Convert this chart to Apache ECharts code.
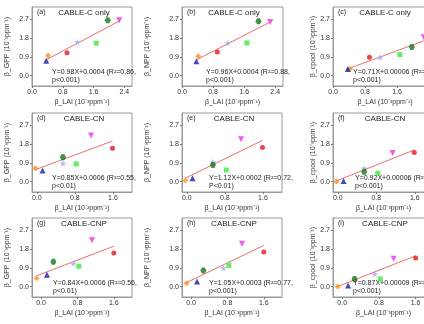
<!DOCTYPE html>
<html>
<head>
<meta charset="utf-8">
<script src="https://cdn.jsdelivr.net/npm/echarts@6/dist/echarts.min.js"></script>
<style>
  html, body { margin: 0; padding: 0; background: #fff; overflow: hidden; }
  #main { width: 440px; height: 324px; }
</style>
</head>
<body>
<div id="main"></div>
<script>
// beta_LAI per model (10^-3 ppm^-1), order: orange, blue, red, lavender, green, dark green, magenta
const laiC   = [0.42, 0.37, 0.91, 1.18, 1.67, 1.97, 2.27];
const laiCN  = [-0.03, 0.12, 1.59, 0.55, 0.83, 0.55, 1.14];
const laiCNP = [-0.10, 0.13, 1.60, 0.71, 0.83, 0.27, 1.12];

const gppC     = [0.97, 0.72, 1.10, 1.61, 1.56, 2.66, 2.66];
const nppC     = [0.93, 0.69, 1.14, 1.57, 1.57, 2.61, 2.58];
const cpoolC   = [0.32, 0.32, 0.88, 0.88, 1.01, 1.37, 1.85];
const gppCN    = [0.64, 0.53, 1.61, 0.88, 0.85, 1.17, 2.22];
const nppCN    = [0.05, 0.16, 1.64, 0.93, 0.56, 0.80, 2.04];
const cpoolCN  = [0.00, 0.03, 1.40, 0.64, 0.40, 0.48, 1.37];
const gppCNP   = [0.40, 0.57, 1.62, 1.12, 0.98, 1.20, 2.23];
const nppCNP   = [0.16, 0.24, 1.66, 0.90, 1.02, 0.77, 2.06];
const cpoolCNP = [0.00, 0.05, 1.37, 0.61, 0.37, 0.37, 1.34];

// fitted lines, intercept in 10^-3 units
const slopes     = [0.98, 0.96, 0.71, 0.85, 1.12, 0.92, 0.84, 1.05, 0.87];
const intercepts = [0.4, 0.4, 0.06, 0.6, 0.2, 0.06, 0.6, 0.3, 0.09];

const eqLabels = [
  "Y=0.98X+0.0004 (R²=0.86,", "Y=0.96X+0.0004 (R²=0.88,", "Y=0.71X+0.00006 (R²=0.",
  "Y=0.85X+0.0006 (R²=0.55,", "Y=1.12X+0.0002 (R²=0.72,", "Y=0.92X+0.00006 (R²=0",
  "Y=0.84X+0.0006 (R²=0.56,", "Y=1.05X+0.0003 (R²=0.77,", "Y=0.87X+0.00009 (R²=0"
];
const pLabels = ["p<0.001)", "p<0.001)", "p<0.001)", "p<0.01)", "P<0.01)", "p<0.001)", "p<0.01)", "p<0.001)", "p<0.001)"];
const panelTags = ["(a)", "(b)", "(c)", "(d)", "(e)", "(f)", "(g)", "(h)", "(i)"];
const models = ["CABLE-C only", "CABLE-CN", "CABLE-CNP"];
const yNames = ["β_GPP", "β_NPP", "β_cpool"];
const xName = "β_LAI (10⁻³ppm⁻¹)";
const xTicksRow = [[0, 0.8, 1.6, 2.4], [0, 0.8, 1.6], [0, 0.8, 1.6]];
const yTicks = [0, 0.9, 1.8, 2.7];

const laiRows = [laiC, laiCN, laiCNP];
const yRows = [gppC, nppC, cpoolC, gppCN, nppCN, cpoolCN, gppCNP, nppCNP, cpoolCNP];

const colors = ["#f7941d", "#1c1ca8", "#e8141e", "#a9a6f2", "#3ee83e", "#17751c", "#ee2ee8"];
const star = "path://M50,0 L61,35 L98,35 L68,57 L79,91 L50,70 L21,91 L32,57 L2,35 L39,35 Z";
const hexagon = "path://M25,0 L75,0 L100,50 L75,100 L25,100 L0,50 Z";
const triDown = "path://M0,0 L100,0 L50,100 Z";
const symbols = ["diamond", "triangle", "circle", star, "rect", hexagon, triDown];
const symSizes = [6, 6, 5, 7, 5, 6, 6];

const font = "Liberation Sans, Arial, sans-serif";
const colLeft = [32, 182, 333];
const panelWidth = [100, 101, 104, 100, 100, 101, 100, 100, 101];
const rowTop = [7, 113, 218];
const rowHeight = 79;
const xRange = [[0, 2.6], [-0.1, 2.0], [-0.2, 2.0]];
const yNameGap = [21, 31, 13];
const eqOffset = [20, 24, 20, 20, 27, 22, 21, 27, 20];

const grids = [], xAxes = [], yAxes = [], series = [], graphics = [];

for (let p = 0; p < 9; p++) {
  const r = Math.floor(p / 3), c = p % 3;
  const left = colLeft[c], top = rowTop[r];
  grids.push({
    left: left, top: top, width: panelWidth[p], height: rowHeight,
    show: true, borderColor: "#9a9a9a", borderWidth: 1, containLabel: false
  });
  xAxes.push({
    gridIndex: p, type: "value", min: xRange[r][0], max: xRange[r][1],
    name: xName, nameLocation: "middle", nameGap: 13,
    nameTextStyle: { fontSize: 7, color: "#333", fontFamily: font },
    axisLine: { show: true, onZero: false, lineStyle: { color: "#9a9a9a" } },
    axisTick: { show: true, length: 2, customValues: xTicksRow[r], lineStyle: { color: "#777" } },
    axisLabel: {
      customValues: xTicksRow[r], margin: 3, fontSize: 7, color: "#333", fontFamily: font,
      formatter: v => v.toFixed(1)
    },
    splitLine: { show: false }
  });
  yAxes.push({
    gridIndex: p, type: "value", min: -0.5, max: 3.3,
    name: yNames[c] + " (10⁻³ppm⁻¹)", nameLocation: "middle", nameGap: yNameGap[c], nameRotate: 90,
    nameTextStyle: { fontSize: 7, color: "#333", fontFamily: font },
    axisLine: { show: true, onZero: false, lineStyle: { color: "#9a9a9a" } },
    axisTick: { show: true, length: 2, customValues: yTicks, lineStyle: { color: "#777" } },
    axisLabel: {
      customValues: yTicks, margin: 3, fontSize: 7, color: "#333", fontFamily: font,
      formatter: v => v.toFixed(1)
    },
    splitLine: { show: false }
  });

  const xs = laiRows[r], ys = yRows[p];
  const x0 = Math.min(...xs), x1 = Math.max(...xs);
  series.push({
    type: "line", xAxisIndex: p, yAxisIndex: p, symbol: "none", silent: true,
    lineStyle: { color: "#e8706e", width: 1 },
    data: [[x0, slopes[p] * x0 + intercepts[p]], [x1, slopes[p] * x1 + intercepts[p]]],
    z: 2
  });
  series.push({
    type: "scatter", xAxisIndex: p, yAxisIndex: p, z: 3,
    data: xs.map((x, k) => ({
      value: [x, ys[k]], symbol: symbols[k], symbolSize: symSizes[k],
      itemStyle: { color: colors[k] }
    }))
  });

  graphics.push({
    type: "text", left: left + 5, top: top + 2,
    style: { text: panelTags[p], fontSize: 7, fill: "#222", fontFamily: font }
  });
  graphics.push({
    type: "text", x: left + 52, y: top + 2,
    style: { text: models[r], fontSize: 8, fill: "#222", fontFamily: font, textAlign: "center" }
  });
  graphics.push({
    type: "text", x: left + eqOffset[p], y: top + rowHeight - 18,
    style: { text: eqLabels[p] + "\n" + pLabels[p], fontSize: 7, lineHeight: 8, fill: "#222", fontFamily: font }
  });
}

const chart = echarts.init(document.getElementById("main"), null, { renderer: "canvas" });
chart.setOption({
  animation: false,
  backgroundColor: "#fff",
  grid: grids,
  xAxis: xAxes,
  yAxis: yAxes,
  series: series,
  graphic: graphics
});
</script>
</body>
</html>
